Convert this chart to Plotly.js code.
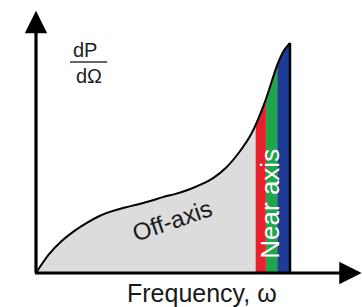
<!DOCTYPE html>
<html>
<head>
<meta charset="utf-8">
<script src="https://cdn.plot.ly/plotly-3.0.1.min.js"></script>
<style>html,body{margin:0;padding:0;background:#fff;}#chart{width:362px;height:307px;}</style>
</head>
<body>
<div id="chart"></div>
<script>
// Frequency (arbitrary units) and spectral power dP/dΩ (arbitrary units)
var omega = [0, 0.5, 1.0, 1.5, 2.0, 2.5, 3.0, 3.5, 4.0, 4.5, 5.0, 5.5, 6.0, 6.5, 7.0, 7.5, 8.0, 8.5, 9.0, 9.5, 9.75, 10];
var dPdOmega = [0, 0.8, 1.38, 1.82, 2.18, 2.48, 2.69, 2.85, 2.98, 3.13, 3.30, 3.44, 3.62, 3.85, 4.15, 4.6, 5.25, 6.1, 7.4, 9.05, 9.65, 10.0];
// near-axis coloured bands (frequency edges)
var bandEdges = [8.65, 9.05, 9.5, 10];
var bandColors = ['#e8202a', '#1fa54a', '#1e3c96'];
// labels
var yLabelTop = 'dP';
var yLabelBottom = 'dΩ';
var xLabel = 'Frequency, ω';
var offLabel = 'Off-axis';
var nearLabel = 'Near axis';

var xRange = [-1.417, 12.835];
var yRange = [-1.478, 11.87];
var FONT = 'Liberation Sans, Arial, sans-serif';

var traces = [];
// grey off-axis area
traces.push({x: omega, y: dPdOmega, type: 'scatter', mode: 'lines', fill: 'tozeroy',
  fillcolor: '#dcdcdc', line: {width: 0, shape: 'spline'}, hoverinfo: 'skip'});
// coloured bands (clipped by the white mask above the curve)
for (var i = 0; i < bandColors.length; i++) {
  var a = bandEdges[i], b = bandEdges[i + 1];
  traces.push({x: [a, b, b, a, a], y: [0, 0, 10.8, 10.8, 0], type: 'scatter', mode: 'lines',
    fill: 'toself', fillcolor: bandColors[i], line: {width: 0}, hoverinfo: 'skip'});
}
// helper top line for the white mask
traces.push({x: [omega[0], omega[omega.length - 1]], y: [yRange[1], yRange[1]], type: 'scatter',
  mode: 'lines', line: {width: 0}, hoverinfo: 'skip'});
// spectrum curve with white mask above
traces.push({x: omega, y: dPdOmega, type: 'scatter', mode: 'lines', fill: 'tonexty',
  fillcolor: '#ffffff', line: {color: '#000', width: 2, shape: 'spline'}, hoverinfo: 'skip'});
// right edge of spectrum
var last = omega.length - 1;
traces.push({x: [omega[last], omega[last]], y: [0, dPdOmega[last]], type: 'scatter', mode: 'lines',
  line: {color: '#000', width: 2.5}, hoverinfo: 'skip'});

var layout = {
  width: 362, height: 307,
  margin: {l: 0, r: 0, t: 0, b: 0, pad: 0},
  paper_bgcolor: '#fff', plot_bgcolor: '#fff',
  showlegend: false,
  xaxis: {range: xRange, visible: false, fixedrange: true},
  yaxis: {range: yRange, visible: false, fixedrange: true},
  shapes: [
    {type: 'line', xref: 'x', yref: 'y', x0: 1.34, x1: 2.8, y0: 9.17, y1: 9.17, line: {color: '#333', width: 1.5}}
  ],
  annotations: [
    // axes with arrowheads
    {x: 0, y: 11.4, ax: 0, ay: -0.05, xref: 'x', yref: 'y', axref: 'x', ayref: 'y', text: '',
      showarrow: true, arrowhead: 2, arrowsize: 1.4, arrowwidth: 3.2, arrowcolor: '#000'},
    {x: 12.82, y: 0, ax: -0.1, ay: 0, xref: 'x', yref: 'y', axref: 'x', ayref: 'y', text: '',
      showarrow: true, arrowhead: 2, arrowsize: 1.4, arrowwidth: 3.2, arrowcolor: '#000'},
    {x: 1.93, y: 9.7, xref: 'x', yref: 'y', text: yLabelTop, showarrow: false,
      font: {family: FONT, size: 20, color: '#222'}},
    {x: 2.07, y: 8.55, xref: 'x', yref: 'y', text: yLabelBottom, showarrow: false,
      font: {family: FONT, size: 20, color: '#222'}},
    {x: 5.35, y: 2.3, xref: 'x', yref: 'y', text: offLabel, showarrow: false, textangle: -19,
      font: {family: FONT, size: 24, color: '#1a1a1a'}},
    {x: 9.2, y: 3.0, xref: 'x', yref: 'y', text: nearLabel, showarrow: false, textangle: -90,
      font: {family: FONT, size: 26, color: '#ffffff'}},
    {x: 202 / 362, y: 0.045, xref: 'paper', yref: 'paper', text: xLabel, showarrow: false,
      xanchor: 'center', yanchor: 'middle', font: {family: FONT, size: 25, color: '#1a1a1a'}}
  ]
};

Plotly.newPlot('chart', traces, layout, {displayModeBar: false, staticPlot: true});
</script>
</body>
</html>
